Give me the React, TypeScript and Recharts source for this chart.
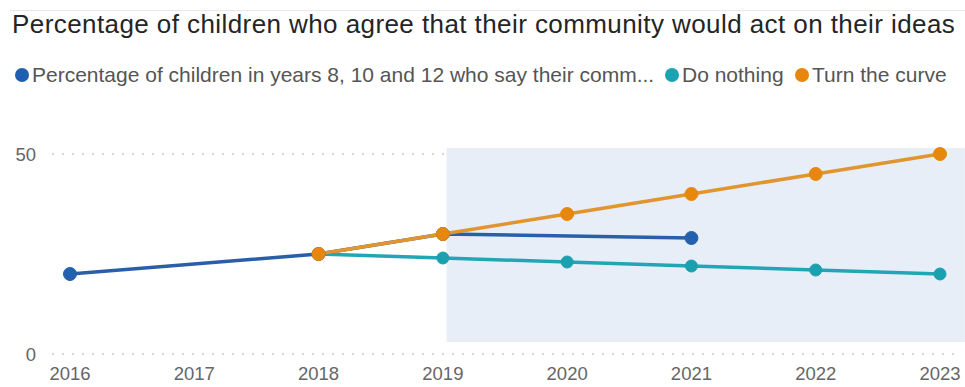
import React from 'react';
import {
  LineChart,
  Line,
  XAxis,
  YAxis,
  CartesianGrid,
  ReferenceArea,
} from 'recharts';

const years = [2016, 2017, 2018, 2019, 2020, 2021, 2022, 2023];
const actual = [20, null, 25, 30, null, 29, null, null];
const doNothing = [null, null, 25, 24, 23, 22, 21, 20];
const turnTheCurve = [null, null, 25, 30, 35, 40, 45, 50];
const yTicks = [0, 50];

const seriesNames = [
  'Percentage of children in years 8, 10 and 12 who say their comm...',
  'Do nothing',
  'Turn the curve',
];

const colors = {
  actual: '#2a5ea9',
  actualDot: '#2360ad',
  doNothing: '#22a6b5',
  doNothingDot: '#1aa1b0',
  turn: '#e0952e',
  turnDot: '#e8870e',
};

const legendItems = [
  { name: seriesNames[0], color: '#1f5faf', x: 15 },
  { name: seriesNames[1], color: '#1aa3b0', x: 665 },
  { name: seriesNames[2], color: '#e8850b', x: 795 },
];

const data = years.map((year, i) => ({
  year,
  actual: actual[i],
  doNothing: doNothing[i],
  turnTheCurve: turnTheCurve[i],
}));

const font = '"Liberation Sans", Arial, sans-serif';

const App: React.FC = () => {
  return (
    <div style={{ position: 'absolute', left: 0, top: 0, width: 965, height: 387, fontFamily: font, background: '#fff' }}>
      <div style={{ position: 'absolute', left: 10, right: 0, top: 10, height: 1, background: '#e8e8e8' }} />
      <div
        style={{
          position: 'absolute',
          left: 12,
          top: 11,
          fontSize: 26,
          lineHeight: '26px',
          letterSpacing: 0.42,
          color: '#252525',
          whiteSpace: 'nowrap',
        }}
      >
        Percentage of children who agree that their community would act on their ideas
      </div>
      {legendItems.map((item) => (
        <div
          key={item.name}
          style={{
            position: 'absolute',
            left: item.x,
            top: 64,
            display: 'flex',
            alignItems: 'center',
            fontSize: 21,
            lineHeight: '21px',
            color: '#555',
            whiteSpace: 'nowrap',
          }}
        >
          <span
            style={{
              display: 'inline-block',
              width: 14,
              height: 14,
              borderRadius: 7,
              background: item.color,
              marginRight: 3,
            }}
          />
          {item.name}
        </div>
      ))}
      <div style={{ position: 'absolute', left: 0, top: 0 }}>
        <LineChart
          width={965}
          height={387}
          data={data}
          margin={{ top: 154, right: 5, bottom: 0, left: 0 }}
        >
          <CartesianGrid
            horizontal
            vertical={false}
            stroke="#c8c8c8"
            strokeDasharray="2 8"
            strokeWidth={1.5}
          />
          <ReferenceArea
            x1={2019.03}
            x2={2023.2}
            y1={3}
            y2={51.5}
            fill="#e8eef7"
            fillOpacity={1}
            stroke="none"
            ifOverflow="visible"
          />
          <XAxis
            dataKey="year"
            type="number"
            domain={[2016, 2023]}
            ticks={years}
            padding={{ left: 18, right: 20 }}
            axisLine={false}
            tickLine={false}
            tickSize={0}
            tickMargin={13}
            height={33}
            tick={{ fill: '#666', fontSize: 18.5, fontFamily: font }}
          />
          <YAxis
            domain={[0, 50]}
            ticks={yTicks}
            width={52}
            axisLine={false}
            tickLine={false}
            tickSize={0}
            tickMargin={16}
            tick={{ fill: '#666', fontSize: 18.5, fontFamily: font }}
          />
          <Line
            dataKey="doNothing"
            name={seriesNames[1]}
            stroke={colors.doNothing}
            strokeWidth={3.5}
            dot={{ r: 6, fill: colors.doNothingDot, stroke: colors.doNothingDot, strokeWidth: 1 }}
            isAnimationActive={false}
          />
          <Line
            dataKey="actual"
            name={seriesNames[0]}
            stroke={colors.actual}
            strokeWidth={3.5}
            connectNulls
            dot={{ r: 6.5, fill: colors.actualDot, stroke: colors.actualDot, strokeWidth: 1 }}
            isAnimationActive={false}
          />
          <Line
            dataKey="turnTheCurve"
            name={seriesNames[2]}
            stroke={colors.turn}
            strokeWidth={3.5}
            dot={{ r: 6.5, fill: colors.turnDot, stroke: colors.turnDot, strokeWidth: 1 }}
            isAnimationActive={false}
          />
        </LineChart>
      </div>
    </div>
  );
};

export default App;
